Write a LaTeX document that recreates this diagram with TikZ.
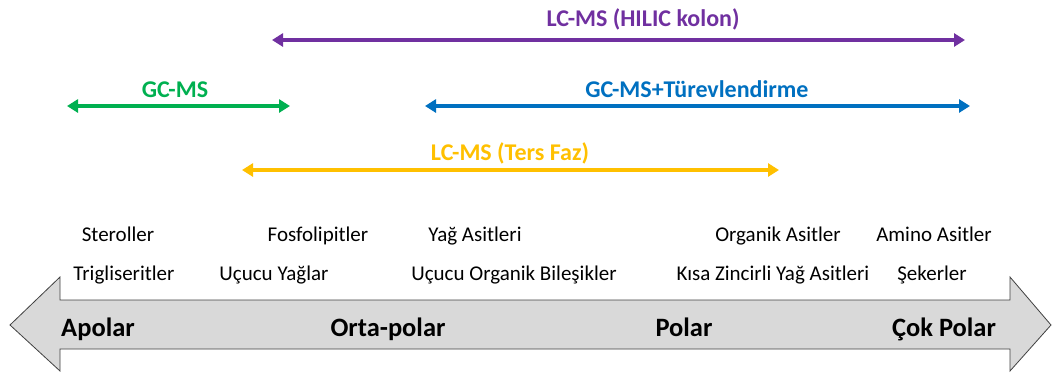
\documentclass[tikz,border=0pt]{standalone}
\usepackage{fontspec}
\setmainfont{Carlito}
\usetikzlibrary{arrows.meta}
\definecolor{hilic}{HTML}{7030A0}
\definecolor{gcms}{HTML}{00B050}
\definecolor{deriv}{HTML}{0070C0}
\definecolor{rp}{HTML}{FFC000}
\definecolor{axisfill}{HTML}{D9D9D9}
\definecolor{axisline}{HTML}{404040}
\tikzset{
  methodspan/.style={line width=3.8pt, {Triangle[length=11pt,width=13pt]}-{Triangle[length=11pt,width=13pt]}},
  rangelabel/.style={font=\bfseries\fontsize{24}{26}\selectfont, inner sep=0pt, anchor=base},
  compound/.style={font=\fontsize{21}{23}\selectfont, inner sep=0pt, anchor=base},
  polarity/.style={font=\bfseries\fontsize{26.5}{28}\selectfont, inner sep=0pt, anchor=base},
}
\begin{document}
\begin{tikzpicture}[x=1pt,y=-1pt]
\useasboundingbox (0,0) rectangle (1053,376);

% polarity axis: double-headed block arrow
\draw[fill=axisfill, draw=axisline, line width=0.8pt, line join=miter]
  (10,325) -- (60,277) -- (60,300) -- (1010,300) -- (1010,277) -- (1051,325)
  -- (1010,371) -- (1010,349) -- (60,349) -- (60,371) -- cycle;

\node[polarity] (apolar) at (98,336) {Apolar};
\node[polarity] (orta) at (388,336) {Orta-polar};
\node[polarity] (polar) at (684,336) {Polar};
\node[polarity] (cok) at (944,336) {Çok Polar};

% compound classes
\node[compound] (sterol) at (118,241) {Steroller};
\node[compound] (fosfo) at (318,241) {Fosfolipitler};
\node[compound] (yag) at (475,241) {Yağ Asitleri};
\node[compound] (organik) at (778,241) {Organik Asitler};
\node[compound] (amino) at (934,241) {Amino Asitler};
\node[compound] (trig) at (124,280) {Trigliseritler};
\node[compound] (ucucuyag) at (274,280) {Uçucu Yağlar};
\node[compound] (voc) at (514,280) {Uçucu Organik Bileşikler};
\node[compound] (kisa) at (773,280) {Kısa Zincirli Yağ Asitleri};
\node[compound] (seker) at (932,280) {Şekerler};

% analytical method ranges
\coordinate (h1) at (272,40);  \coordinate (h2) at (965,40);
\draw[methodspan, draw=hilic, fill=hilic] (h1) -- (h2);
\node[rangelabel, text=hilic] (hlab) at (643,26) {LC-MS (HILIC kolon)};

\coordinate (g1) at (67,106);  \coordinate (g2) at (290,106);
\draw[methodspan, draw=gcms, fill=gcms] (g1) -- (g2);
\node[rangelabel, text=gcms] (glab) at (175,97) {GC-MS};

\coordinate (d1) at (425,106); \coordinate (d2) at (970,106);
\draw[methodspan, draw=deriv, fill=deriv] (d1) -- (d2);
\node[rangelabel, text=deriv] (dlab) at (697,97) {GC-MS+Türevlendirme};

\coordinate (r1) at (242,170); \coordinate (r2) at (779,170);
\draw[methodspan, draw=rp, fill=rp] (r1) -- (r2);
\node[rangelabel, text=rp] (rlab) at (510,160) {LC-MS (Ters Faz)};
\end{tikzpicture}
\end{document}
